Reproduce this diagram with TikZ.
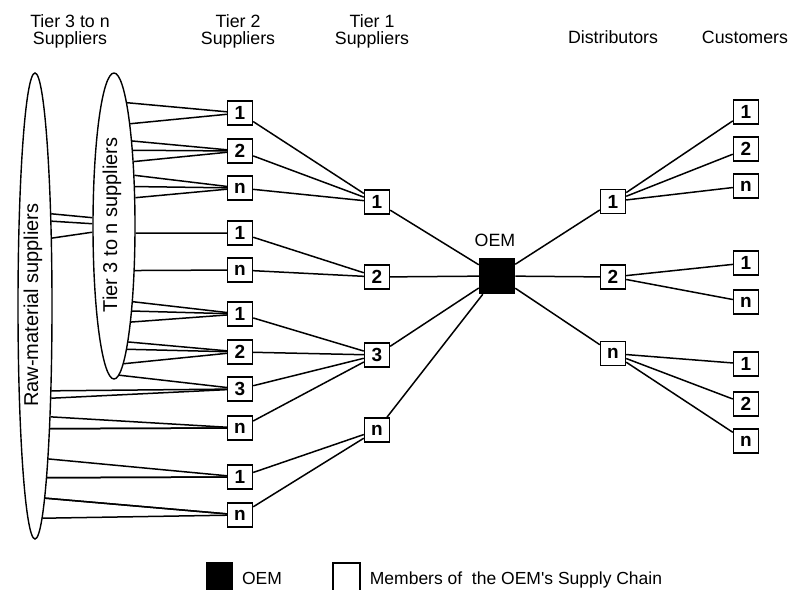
\documentclass[tikz,border=0pt]{standalone}
\usepackage{fontspec}
\setmainfont{Liberation Sans}
\usetikzlibrary{shapes.geometric}
\begin{document}
\begin{tikzpicture}[x=1pt,y=-1pt,line width=1.5pt,
  mbox/.style={draw,fill=white,line width=1.4pt,minimum width=25pt,minimum height=24pt,inner sep=0pt,
    font=\fontsize{19}{19}\selectfont\bfseries},
  oembox/.style={draw,fill=black,minimum size=35pt,inner sep=0pt},
  hdr/.style={align=center,inner sep=0pt,font=\fontsize{17.8}{17.3}\selectfont},
  ell/.style={draw,ellipse,inner sep=0pt,line width=1.4pt},
  rottext/.style={rotate=90,inner sep=0pt,font=\fontsize{20}{20}\selectfont},
  conn/.style={line width=1.5pt}]
\useasboundingbox (0,0) rectangle (795,589);

% headers
\node[hdr,anchor=north] (h3) at (70,13.5) {Tier 3 to n\\Suppliers};
\node[hdr,anchor=north] (h2) at (238,13.5) {Tier 2\\Suppliers};
\node[hdr,anchor=north] (h1) at (372,13.5) {Tier 1\\Suppliers};
\node[hdr,anchor=base] (hd) at (613,43) {Distributors};
\node[hdr,anchor=base] (hc) at (745,43) {Customers};

% ellipses
\node[ell,minimum width=34pt,minimum height=466pt] (raw) at (35,306) {};
\node[rottext] (rawtext) at (33,305) {Raw-material suppliers};
\node[ell,minimum width=42pt,minimum height=306pt] (t3) at (114,226) {};
\node[rottext] (t3text) at (112,225) {Tier 3 to n suppliers};

% tier 2
\node[mbox] (a1) at (240,113) {1};
\node[mbox] (a2) at (240,151) {2};
\node[mbox] (a3) at (240,188) {n};
\node[mbox] (a4) at (240,233) {1};
\node[mbox] (a5) at (240,270) {n};
\node[mbox] (a6) at (240,314) {1};
\node[mbox] (a7) at (240,352) {2};
\node[mbox] (a8) at (240,389) {3};
\node[mbox] (a9) at (240,428) {n};
\node[mbox] (a10) at (240,477) {1};
\node[mbox] (a11) at (240,515) {n};

% tier 1
\node[mbox] (b1) at (377,202) {1};
\node[mbox] (b2) at (377,277) {2};
\node[mbox] (b3) at (377,355) {3};
\node[mbox] (b4) at (377,430) {n};

% OEM
\node[oembox] (oem) at (497,276) {};
\node[hdr] (oemlbl) at (495,240) {OEM};

% distributors
\node[mbox] (d1) at (613,201.5) {1};
\node[mbox] (d2) at (613,277) {2};
\node[mbox] (d3) at (613,353.5) {n};

% customers
\node[mbox] (c1) at (746,112) {1};
\node[mbox] (c2) at (746,149) {2};
\node[mbox] (c3) at (746,186) {n};
\node[mbox] (c4) at (746,263) {1};
\node[mbox] (c5) at (746,302) {n};
\node[mbox] (c6) at (746,364) {1};
\node[mbox] (c7) at (746,404) {2};
\node[mbox] (c8) at (746,441) {n};

% raw -> tier 3 ellipse
\draw[conn] (raw.80.5) -- (t3.159);
\draw[conn] (raw.79) -- (t3.174.6);
\draw[conn] (raw.76.3) -- (t3.-164);

% ellipses -> tier 2
\foreach \ang in {84.6,81.9} \draw[conn] (t3.\ang) -- (a1);
\foreach \ang in {78.9,76.5,73.4} \draw[conn] (t3.\ang) -- (a2);
\foreach \ang in {68.4,62.5,53.7} \draw[conn] (t3.\ang) -- (a3);
\draw[conn] (t3.-18.4) -- (a4);
\draw[conn] (t3.-65.4) -- (a5);
\foreach \ang in {-76,-78.9,-80.8} \draw[conn] (t3.\ang) -- (a6);
\foreach \ang in {-83.2,-84.7,-86.5} \draw[conn] (t3.\ang) -- (a7);
\draw[conn] (t3.-88.7) -- (a8);
\foreach \ang in {-79.6,-80.9} \draw[conn] (raw.\ang) -- (a8);
\foreach \ang in {-82,-83,-83.9} \draw[conn] (raw.\ang) -- (a9);
\foreach \ang in {-85.4,-86.1,-86.7} \draw[conn] (raw.\ang) -- (a10);
\foreach \ang in {-87.3,-87.9,-88.7} \draw[conn] (raw.\ang) -- (a11);

% tier 2 -> tier 1
\foreach \s in {a1,a2,a3} \draw[conn] (\s) -- (b1);
\foreach \s in {a4,a5} \draw[conn] (\s) -- (b2);
\foreach \s in {a6,a7,a8,a9} \draw[conn] (\s) -- (b3);
\foreach \s in {a10,a11} \draw[conn] (\s) -- (b4);

% tier 1 -> OEM -> distributors
\foreach \s in {b1,b2,b3,b4} \draw[conn] (\s) -- (oem);
\foreach \s in {d1,d2,d3} \draw[conn] (oem) -- (\s);

% distributors -> customers
\foreach \s in {c1,c2,c3} \draw[conn] (d1) -- (\s);
\foreach \s in {c4,c5} \draw[conn] (d2) -- (\s);
\foreach \s in {c6,c7,c8} \draw[conn] (d3) -- (\s);

% legend
\node[draw,fill=black,minimum width=25pt,minimum height=26pt,inner sep=0pt] (lgoem) at (219.5,576) {};
\node[hdr,anchor=base,font=\fontsize{17.5}{17.5}\selectfont] (lgoemtxt) at (262,584) {OEM};
\node[draw,fill=white,line width=1.4pt,minimum width=27pt,minimum height=28pt,inner sep=0pt] (lgmem) at (346.5,577) {};
\node[hdr,anchor=base,font=\fontsize{17.5}{17.5}\selectfont] (lgmemtxt) at (516,584) {Members of\ \ the OEM\textquotesingle s Supply Chain};
\end{tikzpicture}
\end{document}
